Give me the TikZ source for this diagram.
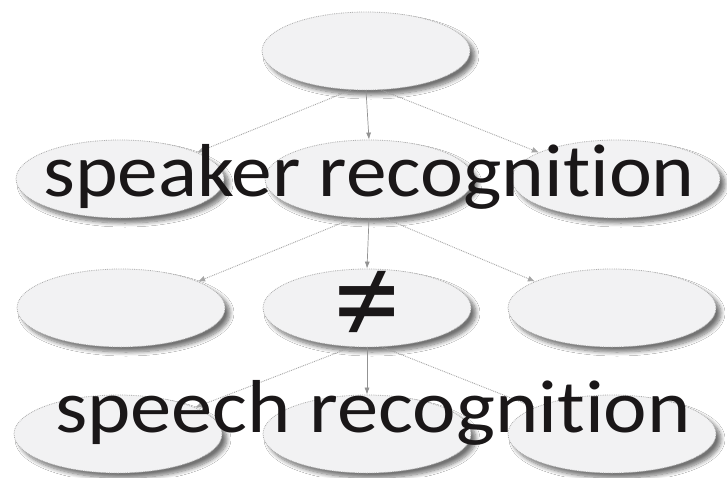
\documentclass[tikz,border=0pt]{standalone}
\usepackage{fontspec}
\setmainfont[Ligatures={NoCommon}]{Carlito}
\usetikzlibrary{shapes.geometric,shadows.blur,arrows.meta}
\definecolor{ellfill}{HTML}{F2F2F3}
\definecolor{txt}{HTML}{1A1718}
\tikzset{
  ell/.style={ellipse, minimum width=208pt, minimum height=78pt, inner sep=0pt,
    fill=ellfill, draw=gray!65, densely dotted, line width=0.8pt,
    blur shadow={shadow xshift=5pt, shadow yshift=-5pt, shadow blur steps=8, shadow opacity=55, shadow blur radius=4pt}},
  solidarr/.style={draw=gray!85, line width=0.7pt, -{Latex[length=7pt,width=5pt]}},
  dotarr/.style={draw=gray!70, densely dotted, line width=0.9pt, -{Latex[length=7pt,width=6pt]}},
  bigtxt/.style={text=txt, font=\fontsize{75}{78}\selectfont, inner sep=0pt, anchor=base west},
}
\begin{document}
\begin{tikzpicture}[x=1pt,y=-1pt]
\useasboundingbox[fill=white] (0,0) rectangle (727,477);
\node[ell] (t)  at (366,51) {};
\node[ell] (aL) at (120,179) {};
\node[ell] (aM) at (369,179) {};
\node[ell] (aR) at (616,179) {};
\node[ell] (bL) at (121,308) {};
\node[ell] (bM) at (367,308) {};
\node[ell] (bR) at (612,308) {};
\node[ell] (cL) at (118,434) {};
\node[ell] (cM) at (367,434) {};
\node[ell] (cR) at (612,434) {};
\draw[solidarr] (t.south) -- (aM.north);
\draw[dotarr] (t.249) -- (aL.19);
\draw[dotarr] (t.291) -- (aR.161);
\draw[solidarr] (aM.south) -- (bM.north);
\draw[dotarr] (aM.249) -- (bL.19);
\draw[dotarr] (aM.291) -- (bR.161);
\draw[solidarr] (bM.south) -- (cM.north);
\draw[dotarr] (bM.249) -- (cL.19);
\draw[dotarr] (bM.291) -- (cR.161);
\node[bigtxt] (s1) at (43,196) {\scalebox{1.085}[1]{speaker recognition}};
\node[text=txt, font=\fontsize{135}{135}\selectfont, inner sep=0pt] (ne) at (367,308) {≠};
\node[bigtxt] (s2) at (55,432) {\scalebox{1.10}[1]{speech recognition}};
\end{tikzpicture}
\end{document}
